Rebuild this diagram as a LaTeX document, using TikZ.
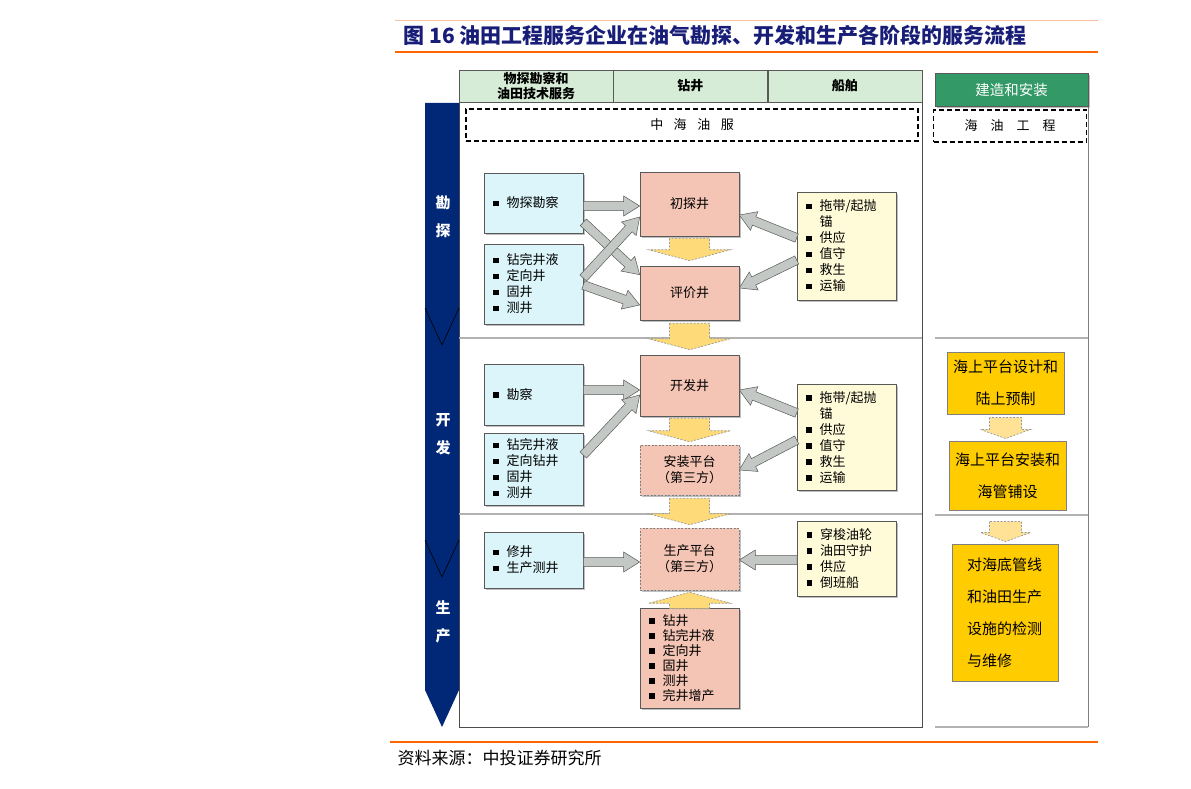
\documentclass[tikz,border=0pt]{standalone}
\usepackage{fontspec}
\setmainfont{Noto Sans CJK SC}
\usetikzlibrary{positioning,calc,shadows}

\definecolor{navy}{RGB}{0,40,118}
\definecolor{titleblue}{RGB}{24,30,120}
\definecolor{lineorange}{RGB}{255,102,0}
\definecolor{lightorange}{RGB}{248,190,160}
\definecolor{hdrgreen}{RGB}{214,236,214}
\definecolor{darkgreen}{RGB}{51,153,102}
\definecolor{cyanfill}{RGB}{219,245,250}
\definecolor{pinkfill}{RGB}{244,196,180}
\definecolor{creamfill}{RGB}{255,251,216}
\definecolor{goldfill}{RGB}{255,204,0}
\definecolor{yarrfill}{RGB}{255,218,120}
\definecolor{yarrlight}{RGB}{255,226,150}
\definecolor{garrfill}{RGB}{196,200,196}

\newcommand\bul{\raisebox{1.5pt}{\rule{5.5pt}{5.5pt}}\hspace{8pt}}
\newcommand\cont{\hspace*{13.5pt}}
% fat block arrow: style, half tail, half head, head length, from, to
\newcommand\fatarr[6]{%
  \path let \p1=(#5), \p2=(#6),
    \n1={atan2(\y2-\y1,\x2-\x1)}, \n2={veclen(\x2-\x1,\y2-\y1)} in
    \pgfextra{\xdef\fax{\x1}\xdef\fay{\y1}\xdef\faang{\n1}\xdef\falen{\n2}};
  \draw[#1, shift={(\fax,\fay)}, rotate=\faang]
    (0pt,-#2) -- ({\falen-#4},-#2) -- ({\falen-#4},-#3) -- (\falen,0pt)
    -- ({\falen-#4},#3) -- ({\falen-#4},#2) -- (0pt,#2) -- cycle;
}
\newcommand\gar[2]{\fatarr{garr}{4.5pt}{10pt}{16pt}{#1}{#2}}
\newcommand\yar[2]{\fatarr{yarr}{20pt}{41pt}{11pt}{#1}{#2}}

\begin{document}
\begin{tikzpicture}[
    x=1pt, y=-1pt,
    font=\fontsize{13}{16}\selectfont,
    hdr/.style={draw=gray!70!black, fill=hdrgreen, minimum width=154pt, minimum height=32pt, inner sep=0pt, align=center, font=\fontsize{13}{14.5}\selectfont\bfseries},
    dashbox/.style={draw, dashed, dash pattern=on 5pt off 3pt, line width=1.1pt, inner sep=0pt},
    frame/.style={draw=gray!60!black, line width=0.8pt},
    divider/.style={draw=gray!60, line width=1.6pt},
    stagelbl/.style={text=white, align=center, font=\fontsize{15}{28}\selectfont\bfseries},
    box/.style={draw=gray!70!black, line width=0.6pt, minimum width=99pt, inner xsep=9pt, inner ysep=2pt, text width=81pt,
      drop shadow={shadow xshift=1.5pt, shadow yshift=-1.5pt, fill=black!50, opacity=0.5}},
    tech/.style={box, fill=cyanfill, align=left},
    well/.style={box, fill=pinkfill, align=center},
    third/.style={well, draw=gray, dashed, dash pattern=on 2pt off 1.5pt},
    ship/.style={box, fill=creamfill, align=left},
    build/.style={draw=gray, line width=1pt, fill=goldfill, inner ysep=0pt, font=\fontsize{15}{32}\selectfont},
    garr/.style={fill=garrfill, draw=gray!70!black, line width=0.5pt},
    yarr/.style={fill=yarrfill, draw=gray!80, dashed, dash pattern=on 2pt off 1.5pt, line width=0.7pt},
    yarr2/.style={yarr, fill=yarrlight}
]
    \useasboundingbox (0,0) rectangle (1191,789);

    % title and rules
    \draw [lightorange, line width=0.8pt] (395,20) -- (1098,20);
    \node (title) [anchor=west, text=titleblue, font=\fontsize{21}{24}\selectfont\bfseries] at (400,36)
        {图 16 油田工程服务企业在油气勘探、开发和生产各阶段的服务流程};
    \draw [lineorange, line width=2.5pt] (395,52) -- (1098,52);
    \draw [lineorange, line width=2pt] (390,742) -- (1098,742);
    \node (source) [anchor=west, font=\fontsize{17}{19}\selectfont] at (394,758) {资料来源：中投证券研究所};

    % frames
    \draw [frame] (459,102) rectangle (922,727);
    \draw [divider] (459,338) -- (922,338);
    \draw [divider] (459,514) -- (922,514);
    \draw [frame, draw=gray] (1088,107) -- (1088,727);
    \draw [divider] (935,338) -- (1088,338);
    \draw [divider] (935,515) -- (1088,515);
    \draw [divider] (935,727) -- (1088,727);

    % column headers
    \node (hwt) [hdr] at (536,86) {物探勘察和\\油田技术服务};
    \node (hzj) [hdr, right=0pt of hwt] {钻井};
    \node (hcb) [hdr, right=0pt of hzj] {船舶};
    \node (hjz) [hdr, fill=darkgreen, text=white, minimum width=153pt, minimum height=33pt, font=\fontsize{14.5}{16}\selectfont,
        drop shadow={shadow xshift=1.5pt, shadow yshift=-1.5pt, fill=black!50, opacity=0.5}] at (1011.5,90) {建造和安装};
    \node (zhy) [dashbox, minimum width=452pt, minimum height=32pt] at (692,125) {中\hspace{10.5pt}海\hspace{10.5pt}油\hspace{10.5pt}服};
    \node (hygc) [dashbox, minimum width=153pt, minimum height=32pt] at (1010,126) {海\hspace{13pt}油\hspace{13pt}工\hspace{13pt}程};

    % stage arrow
    \fill [navy] (425,103) -- (459,103) -- (459,690) -- (442,727) -- (425,690) -- cycle;
    \draw [black, line width=0.6pt] (425,308) -- (442,345) -- (459,308);
    \draw [black, line width=0.6pt] (425,540) -- (442,577) -- (459,540);
    \node (skt) [stagelbl] at (443,217) {勘\\探};
    \node (skf) [stagelbl] at (443,434) {开\\发};
    \node (ssc) [stagelbl] at (443,622) {生\\产};

    % exploration
    \node (wt) [tech, minimum height=60pt] at (533.5,203) {\bul 物探勘察};
    \node (zja) [tech, minimum height=80pt] at (533.5,284) {\bul 钻完井液\\\bul 定向井\\\bul 固井\\\bul 测井};
    \node (ct) [well, minimum height=64pt] at (689.5,204) {初探井};
    \node (pj) [well, minimum height=54pt] at (689.5,293) {评价井};
    \node (cba) [ship, minimum height=108pt] at (846.5,246) {\bul 拖带/起抛\\\cont 锚\\\bul 供应\\\bul 值守\\\bul 救生\\\bul 运输};

    % development
    \node (kc) [tech, minimum height=61pt] at (533.5,394.5) {\bul 勘察};
    \node (zjb) [tech, minimum height=72pt] at (533.5,469) {\bul 钻完井液\\\bul 定向钻井\\\bul 固井\\\bul 测井};
    \node (kf) [well, minimum height=61pt] at (689.5,385.5) {开发井};
    \node (az) [third, minimum height=50pt] at (689.5,470) {安装平台\\（第三方）};
    \node (cbb) [ship, minimum height=106pt] at (846.5,437.5) {\bul 拖带/起抛\\\cont 锚\\\bul 供应\\\bul 值守\\\bul 救生\\\bul 运输};

    % production
    \node (xj) [tech, minimum height=56pt] at (533.5,560) {\bul 修井\\\bul 生产测井};
    \node (sc) [third, minimum height=62pt] at (689.5,559) {生产平台\\（第三方）};
    \node (cbc) [ship, minimum height=75pt] at (847,558.5) {\bul 穿梭油轮\\\bul 油田守护\\\bul 供应\\\bul 倒班船};
    \node (zjc) [well, align=left, minimum height=100pt, font=\fontsize{13}{15}\selectfont] at (689.5,658)
        {\bul 钻井\\\bul 钻完井液\\\bul 定向井\\\bul 固井\\\bul 测井\\\bul 完井增产};

    % construction and installation
    \node (rsj) [build, minimum width=117pt, minimum height=62pt, text width=111pt, inner xsep=3pt, align=center] at (1005.5,383)
        {海上平台设计和\\陆上预制};
    \node (raz) [build, minimum width=117pt, minimum height=69pt, text width=111pt, inner xsep=3pt, align=center] at (1007.5,475.5)
        {海上平台安装和\\海管铺设};
    \node (rjc) [build, minimum width=106pt, minimum height=137pt, text width=76pt, inner xsep=15pt, align=left] at (1005,612.5)
        {对海底管线\\和油田生产\\设施的检测\\与维修};

    % gray arrows
    \gar{[yshift=-3pt]wt.east}{[yshift=-2pt]ct.west}
    \gar{[yshift=11pt]wt.south east}{[yshift=-9pt]pj.north west}
    \gar{[yshift=6pt]zja.east}{[yshift=-13pt]ct.west}
    \gar{[yshift=-1pt]zja.east}{[yshift=-12pt]pj.west}
    \gar{[yshift=8pt]cba.west}{[yshift=-11pt]ct.east}
    \gar{[yshift=-14pt]cba.west}{[yshift=5pt]pj.east}
    \gar{[yshift=4.5pt]kc.east}{[yshift=-4.5pt]kf.west}
    \gar{[yshift=14pt]zjb.east}{[yshift=-9.5pt]kf.west}
    \gar{[yshift=24.5pt]cbb.west}{[yshift=-4.5pt]kf.east}
    \gar{[yshift=-2.5pt]cbb.west}{az.east}
    \gar{[yshift=-2pt]xj.east}{[yshift=-3pt]sc.west}
    \gar{[yshift=-1.5pt]cbc.west}{[yshift=-1pt]sc.east}

    % yellow arrows
    \yar{[yshift=-2pt]ct.south}{[yshift=5pt]pj.north}
    \yar{[yshift=-3pt]pj.south}{[yshift=5pt]kf.north}
    \yar{[yshift=-2pt]kf.south}{[yshift=3pt]az.north}
    \yar{[yshift=-3pt]az.south}{[yshift=3pt]sc.north}
    \fatarr{yarr}{20pt}{41pt}{11pt}{[yshift=-1pt]zjc.north}{[yshift=-2pt]sc.south}
    \fatarr{yarr2}{16pt}{25pt}{9pt}{[yshift=-3pt]rsj.south}{$(rsj.south |- raz.north)+(0,-2)$}
    \fatarr{yarr2}{16pt}{25pt}{9pt}{[yshift=-11pt]rsj.south |- raz.south}{$(rsj.south |- rjc.north)+(0,-2)$}
\end{tikzpicture}
\end{document}
